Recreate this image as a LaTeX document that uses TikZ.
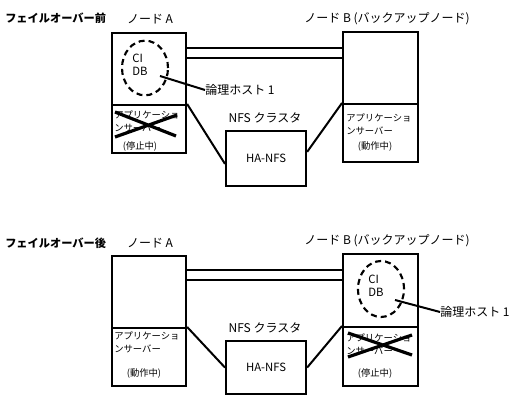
\documentclass[tikz,border=0pt]{standalone}
\usepackage{fontspec}
\setmainfont{Noto Sans CJK JP}
\usetikzlibrary{shapes.geometric}

\begin{document}
\begin{tikzpicture}[x=0.75pt,y=-0.75pt,
  box/.style={draw, line width=1.6pt, anchor=north west, inner sep=0pt, minimum width=#1},
  box/.default=55.5pt,
  wire/.style={line width=1.5pt},
  cross/.style={line width=2.4pt},
  host/.style={draw, ellipse, dashed, dash pattern=on 4.5pt off 3pt, line width=1.6pt, inner sep=0pt, minimum width=34.5pt, minimum height=41pt},
  lbl/.style={font=\fontsize{9}{11}\selectfont, inner sep=0pt},
  title/.style={font=\fontsize{8.4}{10}\selectfont\bfseries, anchor=west, inner sep=0pt},
  app/.style={font=\fontsize{7}{9.75}\selectfont, align=left, anchor=north west, inner sep=0pt},
  small/.style={font=\fontsize{8.5}{10}\selectfont, inner sep=0pt}]
\useasboundingbox (0,0) rectangle (519,406);

\node[title] (t1) at (5,18) {フェイルオーバー前};
\node[lbl] (la1) at (150,19) {ノード A};
\node[lbl] (lb1) at (387,19) {ノード B (バックアップノード)};
\node[box, minimum height=54pt] (a1) at (111,32) {};
\node[box, minimum height=36pt] (ab1) at (111,104) {};
\node[box=56.25pt, minimum height=54pt] (b1) at (342,31) {};
\node[box=56.25pt, minimum height=43.5pt] (bb1) at (342,103) {};
\node[lbl] (nfs1) at (265,118) {NFS クラスタ};
\node[box=60pt, minimum height=41.25pt] (ha1) at (225,130) {};
\node[small] (hat1) at (ha1.center) {HA-NFS};
\node[host] (h1) at (145,68) {};
\node[small, align=left] (db1) at (140,65) {CI\\DB};
\coordinate (p1) at (160,76);
\node[lbl, anchor=west] (lh1) at (205,90) {論理ホスト 1};
\node[app] (s1) at (114,110) {アプリケーショ\\ンサーバー};
\node[app, anchor=center] (st1) at (140,146) {(停止中)};
\node[app] (s2) at (346,113) {アプリケーショ\\ンサーバー};
\node[app, anchor=center] (st2) at (375,146) {(動作中)};
\foreach \y in {48,58}
  \draw[wire] (a1.east |- 0,\y) -- (b1.west |- 0,\y);
\draw[wire] (ab1.north east) -- ([yshift=-4pt]ha1.west);
\draw[wire] ([yshift=5pt]ha1.east) -- (bb1.north west);
\draw[wire] (p1) -- (lh1.west);
\draw[cross] (115,112) -- (176,136) (115,137) -- (177,115);

\node[title] (t2) at (5,243) {フェイルオーバー後};
\node[lbl] (la2) at (150,243) {ノード A};
\node[lbl] (lb2) at (387,241) {ノード B (バックアップノード)};
\node[box, minimum height=54pt] (a2) at (111,255) {};
\node[box, minimum height=43.5pt] (ab2) at (111,327) {};
\node[box=56.25pt, minimum height=54.75pt] (b2) at (342,253) {};
\node[box=56.25pt, minimum height=44.25pt] (bb2) at (342,326) {};
\node[lbl] (nfs2) at (265,328) {NFS クラスタ};
\node[box=60pt, minimum height=39.75pt] (ha2) at (225,340) {};
\node[small] (hat2) at (ha2.center) {HA-NFS};
\node[host, minimum height=42pt] (h2) at (381,289) {};
\node[small, align=left] (db2) at (376,286) {CI\\DB};
\coordinate (p2) at (395,300);
\node[lbl, anchor=west] (lh2) at (440,312) {論理ホスト 1};
\node[app] (s3) at (114,331) {アプリケーショ\\ンサーバー};
\node[app, anchor=center] (st3) at (144,373) {(動作中)};
\node[app] (s4) at (346,333) {アプリケーショ\\ンサーバー};
\node[app, anchor=center] (st4) at (375,373) {(停止中)};
\foreach \y in {270,280}
  \draw[wire] (a2.east |- 0,\y) -- (b2.west |- 0,\y);
\draw[wire] (ab2.north east) -- (ha2.west);
\draw[wire] (ha2.east) -- (bb2.north west);
\draw[wire] (p2) -- (lh2.west);
\draw[cross] (348,333) -- (412,355) (348,357) -- (412,335);
\end{tikzpicture}
\end{document}
